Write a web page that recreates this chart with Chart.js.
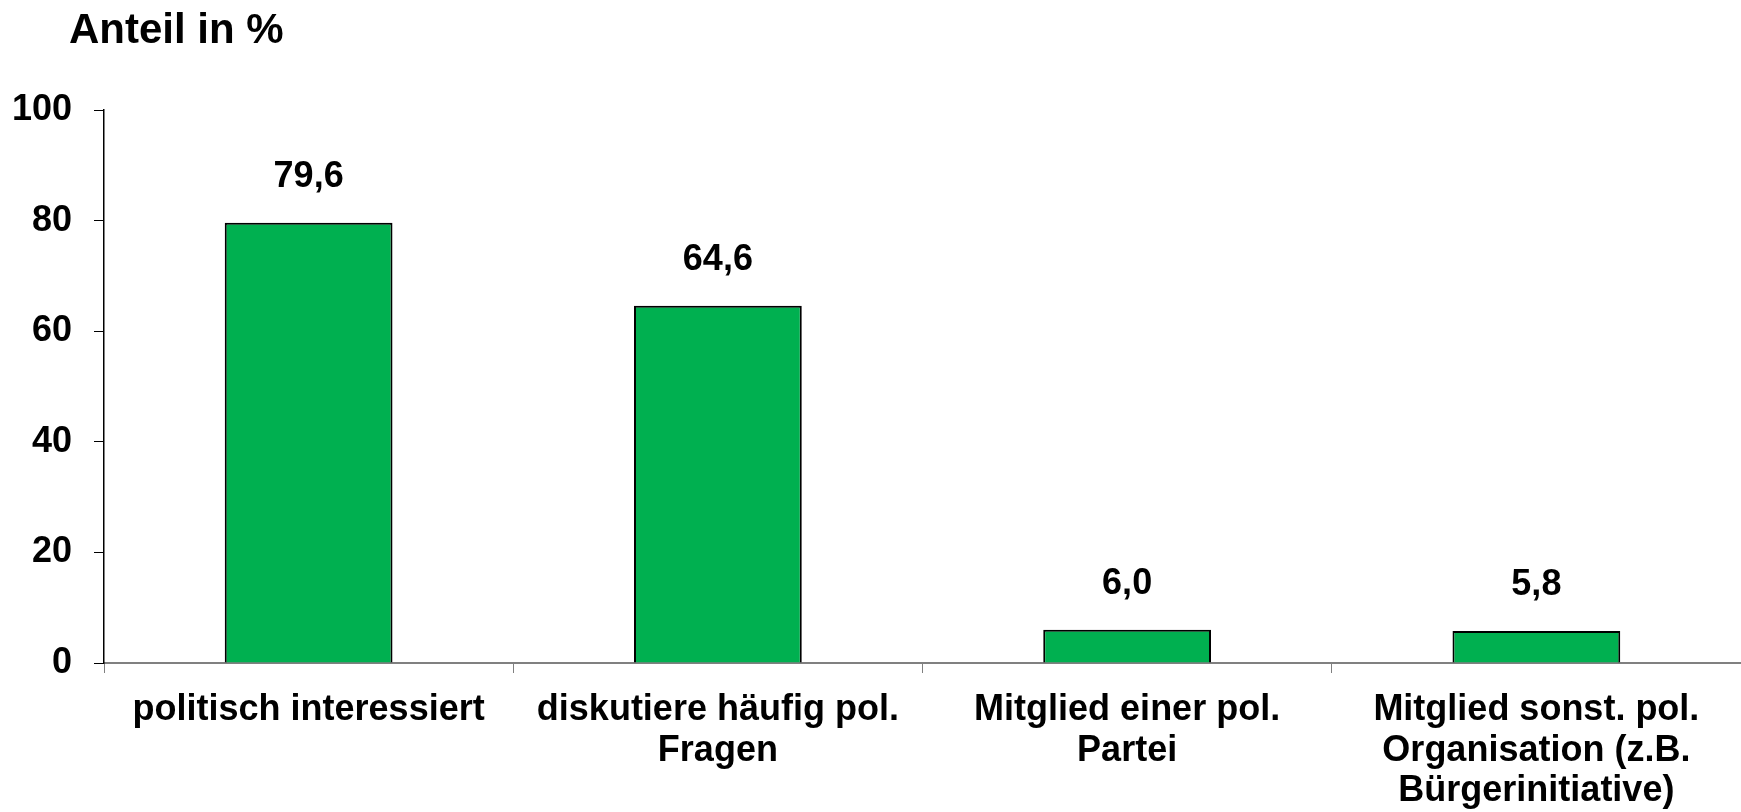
<!DOCTYPE html>
<html>
<head>
<meta charset="utf-8">
<script src="https://cdn.jsdelivr.net/npm/chart.js@4.4.1/dist/chart.umd.min.js"></script>
<style>
  html, body { margin: 0; padding: 0; background: #fff; }
  #wrap { width: 1741px; height: 812px; position: relative; }
</style>
</head>
<body>
<div id="wrap"><canvas id="chart"></canvas></div>
<script>
// Politische Beteiligung - Anteil in %
const categories = [
    ['politisch interessiert'],
    ['diskutiere häufig pol.', 'Fragen'],
    ['Mitglied einer pol.', 'Partei'],
    ['Mitglied sonst. pol.', 'Organisation (z.B.', 'Bürgerinitiative)']
];
const anteil = [79.6, 64.6, 6.0, 5.8];
const yTicks = [0, 20, 40, 60, 80, 100];
const axisTitle = 'Anteil in %';

const FONT = '"Liberation Sans", Arial, sans-serif';

// value labels above the bars, German decimal comma
const valueLabels = {
    id: 'valueLabels',
    afterDatasetsDraw(chart) {
        const ctx = chart.ctx;
        const meta = chart.getDatasetMeta(0);
        ctx.save();
        ctx.font = 'bold 36px ' + FONT;
        ctx.fillStyle = '#000';
        ctx.textAlign = 'center';
        ctx.textBaseline = 'middle';
        meta.data.forEach((bar, i) => {
            const txt = anteil[i].toFixed(1).replace('.', ',');
            ctx.fillText(txt, bar.x, bar.y - 46);
        });
        ctx.restore();
    }
};

// axis title in the top left corner
const cornerTitle = {
    id: 'cornerTitle',
    afterDraw(chart) {
        const ctx = chart.ctx;
        ctx.save();
        ctx.font = 'bold 42px ' + FONT;
        ctx.fillStyle = '#000';
        ctx.textAlign = 'left';
        ctx.textBaseline = 'middle';
        ctx.fillText(axisTitle, 69, 31);
        ctx.restore();
    }
};

new Chart(document.getElementById('chart'), {
    type: 'bar',
    data: {
        labels: categories,
        datasets: [{
            data: anteil,
            backgroundColor: '#00B050',
            borderColor: '#000000',
            borderWidth: 2,
            barPercentage: 0.41,
            categoryPercentage: 1.0
        }]
    },
    plugins: [valueLabels, cornerTitle],
    options: {
        responsive: true,
        maintainAspectRatio: false,
        animation: false,
        layout: {
            padding: { top: 110, right: 0, left: 0, bottom: 0 }
        },
        plugins: {
            legend: { display: false },
            tooltip: { enabled: false }
        },
        scales: {
            x: {
                afterFit: function(scale) { scale.height = 149; },
                grid: {
                    drawOnChartArea: false,
                    drawTicks: true,
                    tickLength: 10,
                    color: '#808080',
                    offset: true
                },
                border: { color: '#808080', width: 2 },
                ticks: {
                    color: '#000',
                    font: { family: FONT, size: 36, weight: 'bold', lineHeight: 1.125 },
                    padding: 17,
                    maxRotation: 0,
                    autoSkip: false
                }
            },
            y: {
                min: 0,
                max: 100,
                afterFit: function(scale) { scale.width = 104; },
                afterBuildTicks: function(scale) {
                    scale.ticks = yTicks.map(v => ({ value: v }));
                },
                grid: {
                    drawOnChartArea: false,
                    drawTicks: true,
                    tickLength: 10,
                    color: '#000'
                },
                border: { color: '#000', width: 1.5 },
                ticks: {
                    color: '#000',
                    font: { family: FONT, size: 36, weight: 'bold' },
                    padding: 22
                }
            }
        }
    }
});
</script>
</body>
</html>
